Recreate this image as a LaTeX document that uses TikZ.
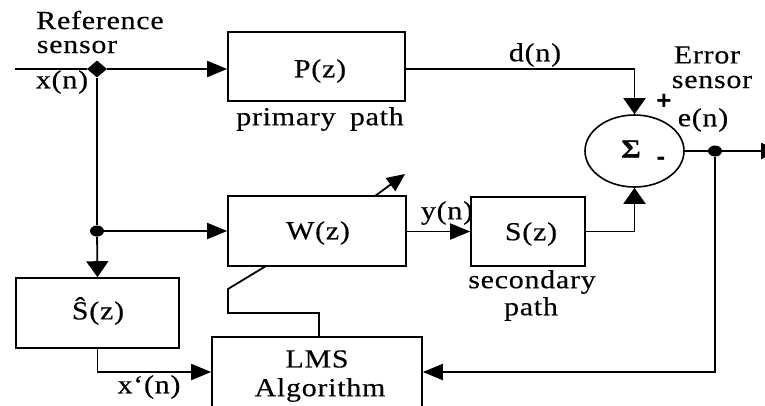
\documentclass[tikz,border=0pt]{standalone}
\usepackage{fontspec}
\setmainfont{Liberation Serif}[FakeStretch=1.15,LetterSpace=3,FakeBold=0.3]
\newfontfamily\signfont{Liberation Sans}
\usetikzlibrary{arrows.meta,shapes.geometric}
\tikzset{
  blk/.style={draw, line width=1.6pt, rectangle, inner sep=0pt},
  lbl/.style={inner sep=0pt, font=\fontsize{26}{31}\selectfont},
  wire/.style={line width=1.8pt},
  harr/.style={wire, -{Triangle[length=20pt,width=16pt]}},
  varr/.style={wire, -{Triangle[length=16pt,width=22pt]}},
  jdot/.style={ellipse, fill=black, inner sep=0pt, minimum width=14pt, minimum height=11pt},
}
\begin{document}
\begin{tikzpicture}[x=1pt,y=-1pt, font=\fontsize{26}{31}\selectfont]
\clip (0,0) rectangle (765,405);
\fill[white] (0,0) rectangle (765,405);
% blocks
\node[blk, minimum width=177pt, minimum height=69pt] (P) at (316.5,66.5) {};
\node[lbl] (Pt) at (320,71) {P(z)};
\node[blk, minimum width=178pt, minimum height=70pt] (W) at (317,231) {};
\node[lbl] (Wt) at (318,233) {W(z)};
\node[blk, minimum width=114pt, minimum height=69pt] (S) at (528,231.5) {};
\node[lbl] (St) at (531,234) {S(z)};
\node[blk, minimum width=163pt, minimum height=70pt] (Sh) at (97.5,313) {};
\node[lbl] (Sht) at (98,311) {Ŝ(z)};
\node[blk, minimum width=210pt, minimum height=90pt] (L) at (317,382) {};
\node[lbl] (Lt1) at (317,359) {LMS};
\node[lbl] (Lt2) at (320,390) {Algorithm};
\node[draw, ellipse, line width=1.6pt, minimum width=99pt, minimum height=72pt, inner sep=0pt] (C) at (634.5,151) {};
\node[lbl] (sig) at (631,149) {\bfseries Σ};
\node[lbl] (plus) at (664,102) {\signfont\bfseries +};
\node[lbl] (minus) at (661,161) {\signfont\bfseries -};
% junctions
\node[diamond, fill=black, inner sep=0pt, minimum width=20pt, minimum height=17pt] (dia) at (97,69) {};
\node[jdot] (d1) at (97,231) {};
\node[jdot] (d2) at (715,151) {};
\coordinate (in) at (15,69);
\coordinate (out) at (781,151);
% labels
\node[lbl] (ref1) at (100,20) {Reference};
\node[lbl] (ref2) at (77,47) {sensor};
\node[lbl] (xn) at (62,82) {x(n)};
\node[lbl] (pp) at (320,119) {primary\hspace{6pt} path};
\node[lbl] (dn) at (535,55) {d(n)};
\node[lbl] (err1) at (707,55) {Error};
\node[lbl] (err2) at (712,82) {sensor};
\node[lbl] (en) at (703,120) {e(n)};
\node[lbl] (yn) at (447,213) {y(n)};
\node[lbl] (sp1) at (532,282) {secondary};
\node[lbl] (sp2) at (531,309) {path};
\node[lbl] (xpn) at (149,387) {x‘(n)};
% connectors
\draw[wire] (in) -- (dia);
\draw[harr] (dia) -- (P.west |- dia);
\draw[wire] (dia) -- (d1);
\draw[varr] (d1) -- (Sh.north);
\draw[harr] (d1) -- (W.west |- d1);
\draw[harr] (W.east |- S.west) -- (S.west);
\draw[varr] (P.east |- dia) -| (C.north);
\draw[varr] (S.east) -| (C.south);
\draw[wire] (C.east) -- (d2);
\draw[harr] (d2) -- (out);
\draw[harr] (d2) |- (L.east |- 0,372);
\draw[harr] (Sh.south) |- (L.west |- 0,372);
\coordinate (wa) at (375,196);
\coordinate (wb) at (405,174);
\draw[wire, -{Triangle[length=18pt,width=16pt]}] (wa) -- (wb);
\coordinate (wl1) at (266,266);
\draw[wire] (wl1) -- (228,289) -- (228,313) -- (319,313) -- (L.north -| 319,0);
\end{tikzpicture}
\end{document}
